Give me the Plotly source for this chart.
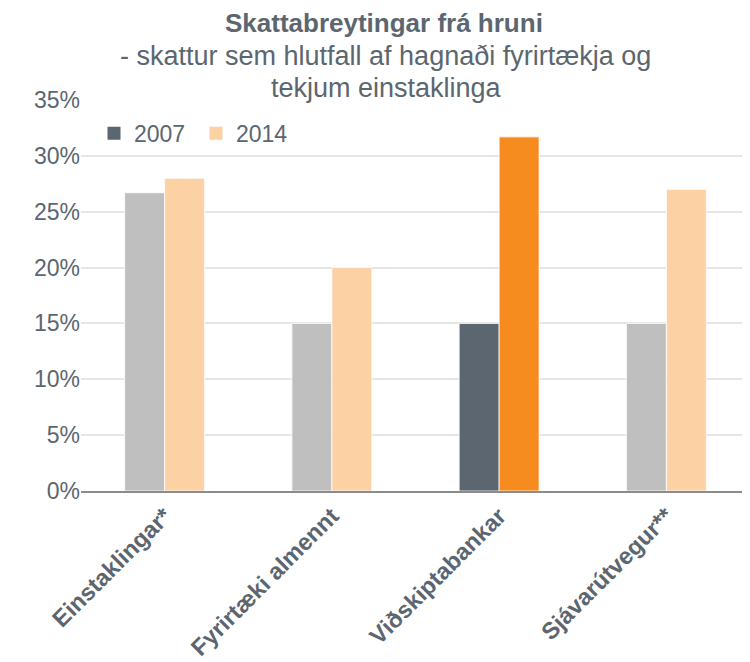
import plotly.graph_objects as go

categories = ["Einstaklingar*", "Fyrirtæki almennt", "Viðskiptabankar", "Sjávarútvegur**"]
values_2007 = [26.7, 15.0, 15.0, 15.0]
values_2014 = [28.0, 20.0, 31.7, 27.0]
y_ticks = [0, 5, 10, 15, 20, 25, 30, 35]
y_tick_labels = [f"{v}%" for v in y_ticks]

TXT = "#5B6670"
GREY = "#BFBFBF"
DARK = "#5B6670"
LIGHT = "#FCD1A4"
ORANGE = "#F68B1F"
FONT = "Liberation Sans, Arial, sans-serif"

colors_2007 = [DARK if c == "Viðskiptabankar" else GREY for c in categories]
colors_2014 = [ORANGE if c == "Viðskiptabankar" else LIGHT for c in categories]

fig = go.Figure()
fig.add_trace(go.Bar(x=categories, y=values_2007, name="2007", showlegend=False,
                     marker=dict(color=colors_2007, line=dict(color="white", width=0.8))))
fig.add_trace(go.Bar(x=categories, y=values_2014, name="2014", showlegend=False,
                     marker=dict(color=colors_2014, line=dict(color="white", width=0.8))))
# legend entries
fig.add_trace(go.Scatter(x=[None], y=[None], mode="markers", name="2007",
                         marker=dict(symbol="square", size=13, color=DARK)))
fig.add_trace(go.Scatter(x=[None], y=[None], mode="markers", name="2014",
                         marker=dict(symbol="square", size=13, color=LIGHT)))

fig.update_layout(
    width=742, height=654,
    margin=dict(l=73, r=0, t=92, b=171),
    paper_bgcolor="white", plot_bgcolor="white",
    barmode="group", bargap=0.522, bargroupgap=0,
    font=dict(family=FONT, color=TXT, size=23),
    showlegend=True,
    legend=dict(orientation="h", x=13 / 669, xanchor="left", y=0.915, yanchor="middle",
                font=dict(size=23, color=TXT), bgcolor="rgba(0,0,0,0)",
                entrywidth=57, entrywidthmode="pixels", itemwidth=30),
    xaxis=dict(type="category", tickangle=-45, showgrid=False, automargin=False,
               showline=True, linecolor="#8C8C8C", linewidth=2, ticks="",
               tickfont=dict(family=FONT, size=23.5, color=TXT, weight="bold"),
               fixedrange=True),
    yaxis=dict(range=[0, 35], tickvals=y_ticks, ticktext=y_tick_labels, automargin=False,
               showgrid=True, gridcolor="#E6E6E6", gridwidth=1.5,
               zeroline=False, showline=False, ticks="",
               tickfont=dict(family=FONT, size=23, color=TXT), fixedrange=True),
    annotations=[
        dict(text="<b>Skattabreytingar frá hruni</b>", xref="paper", yref="paper",
             x=(384 - 81) / 669, y=(491 - 23) / 391, xanchor="center", yanchor="middle",
             showarrow=False, font=dict(size=26, color=TXT, family=FONT)),
        dict(text="- skattur sem hlutfall af hagnaði fyrirtækja og", xref="paper", yref="paper",
             x=(385 - 81) / 669, y=(491 - 56) / 391, xanchor="center", yanchor="middle",
             showarrow=False, font=dict(size=27, color=TXT, family=FONT)),
        dict(text="tekjum einstaklinga", xref="paper", yref="paper",
             x=(386 - 81) / 669, y=(491 - 88) / 391, xanchor="center", yanchor="middle",
             showarrow=False, font=dict(size=27, color=TXT, family=FONT)),
    ],
)

fig.write_html("out.html")
